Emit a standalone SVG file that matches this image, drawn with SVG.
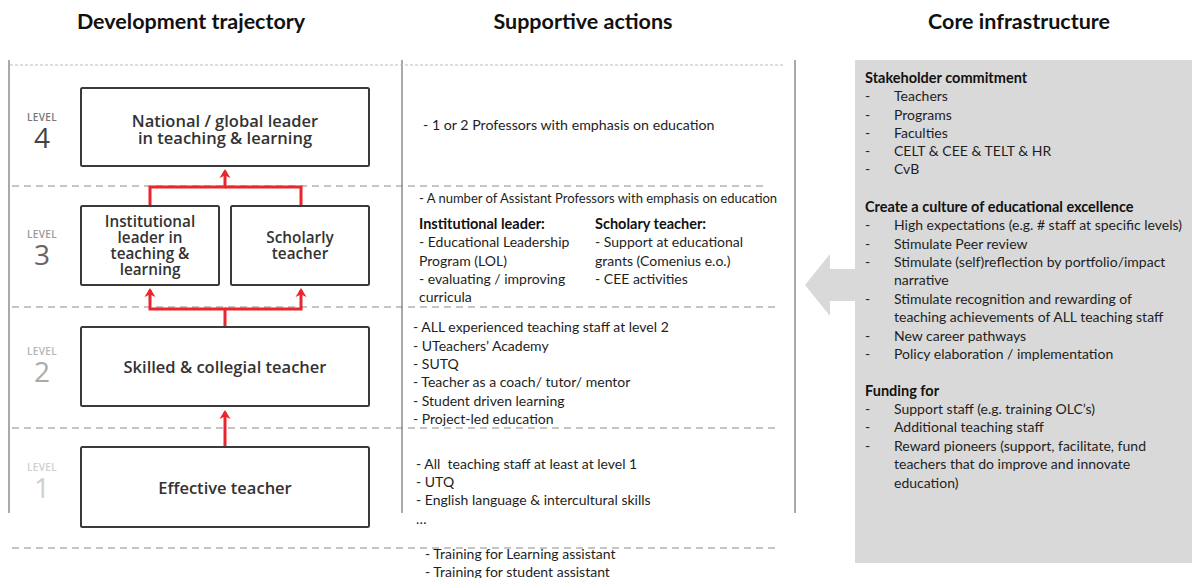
<svg xmlns="http://www.w3.org/2000/svg" width="1192" height="578" viewBox="0 0 1192 578">
<style>
.hdr{font-family:Lato,"Liberation Sans",sans-serif;font-weight:700;font-size:21.5px;fill:#111;text-anchor:middle}
.box{fill:#fff;stroke:#3a3a3a;stroke-width:2}
.bt{font-family:"Open Sans","DejaVu Sans",sans-serif;font-weight:600;font-size:16.5px;fill:#333;text-anchor:middle}
.bs{font-size:15.3px}
.lv{font-family:"Open Sans","DejaVu Sans",sans-serif;font-weight:600;font-size:10px;text-anchor:middle;letter-spacing:0.3px}
.ln{font-family:"Open Sans","DejaVu Sans",sans-serif;font-weight:400;font-size:28px;text-anchor:middle}
.t{font-family:Lato,"Liberation Sans",sans-serif;font-size:14px;fill:#1e1e1e}
.tb{font-family:Lato,"Liberation Sans",sans-serif;font-size:14.5px;font-weight:700;fill:#111}
.vl{stroke:#555;stroke-width:1}
.dl{stroke:#8a8a8a;stroke-width:1;stroke-dasharray:7 5;fill:none}
.dt{stroke:#bdbdbd;stroke-width:1;stroke-dasharray:3 2;fill:none}
.red{stroke:#e8262b;stroke-width:3;fill:none;stroke-linejoin:miter}
</style>
<defs>
<marker id="ah" viewBox="0 0 12 12" refX="8" refY="6" markerWidth="12" markerHeight="12" markerUnits="userSpaceOnUse" orient="auto">
<path d="M1,0.5 L10,6 L1,11.5 L3.5,6 Z" fill="#e8262b"/>
</marker>
</defs>

<!-- headers -->
<text class="hdr" x="191" y="29">Development trajectory</text>
<text class="hdr" x="583" y="29">Supportive actions</text>
<text class="hdr" x="1019" y="29">Core infrastructure</text>

<!-- gray panel and arrow -->
<rect x="855" y="60" width="337" height="503" fill="#d9d9d9"/>
<polygon points="805,285 830,254 830,269 856,269 856,301 830,301 830,316" fill="#d9d9d9"/>

<!-- frame lines -->
<g id="grid">
<line class="vl" x1="9" y1="60" x2="9" y2="513"/>
<line class="vl" x1="402" y1="60" x2="402" y2="513"/>
<line class="vl" x1="795" y1="60" x2="795" y2="513"/>
<line class="dt" x1="10" y1="65" x2="783" y2="65"/>
<line class="dl" x1="12" y1="186" x2="763" y2="186"/>
<line class="dl" x1="12" y1="307" x2="780" y2="307"/>
<line class="dl" x1="12" y1="428" x2="780" y2="428"/>
<line class="dl" x1="12" y1="548" x2="780" y2="548"/>
</g>

<!-- level labels -->
<g id="levels">
<text class="lv" x="42" y="121" fill="#777">LEVEL</text>
<text class="ln" x="42" y="148" fill="#444">4</text>
<text class="lv" x="42" y="238" fill="#999">LEVEL</text>
<text class="ln" x="42" y="265" fill="#666">3</text>
<text class="lv" x="42" y="355" fill="#b5b5b5">LEVEL</text>
<text class="ln" x="42" y="382" fill="#aaa">2</text>
<text class="lv" x="42" y="471" fill="#cfcfcf">LEVEL</text>
<text class="ln" x="42" y="498" fill="#cfcfcf">1</text>
</g>

<!-- connectors -->
<g id="connectors">
<path class="red" d="M225,447 V412" marker-end="url(#ah)"/>
<path class="red" d="M225,327 V309 H150 V290" marker-end="url(#ah)"/>
<path class="red" d="M225,309 H301 V290" marker-end="url(#ah)"/>
<path class="red" d="M150,206 V187 H225 V171" marker-end="url(#ah)"/>
<path class="red" d="M301,206 V187 H225"/>
</g>

<!-- nodes -->
<g id="node-level4">
<rect class="box" x="81" y="88" width="288" height="78" rx="1.5"/>
<text class="bt" x="225" y="127">National / global leader</text>
<text class="bt" x="225" y="144">in teaching &amp; learning</text>
</g>
<g id="node-institutional-leader">
<rect class="box" x="81" y="206" width="138" height="79" rx="1.5"/>
<text class="bt bs" x="150" y="227">Institutional</text>
<text class="bt bs" x="150" y="243">leader in</text>
<text class="bt bs" x="150" y="259">teaching &amp;</text>
<text class="bt bs" x="150" y="275">learning</text>
</g>
<g id="node-scholarly-teacher">
<rect class="box" x="231" y="206" width="138" height="79" rx="1.5"/>
<text class="bt bs" x="300" y="243">Scholarly</text>
<text class="bt bs" x="300" y="259">teacher</text>
</g>
<g id="node-level2">
<rect class="box" x="81" y="327" width="288" height="79" rx="1.5"/>
<text class="bt" x="225" y="373">Skilled &amp; collegial teacher</text>
</g>
<g id="node-level1">
<rect class="box" x="81" y="447" width="288" height="80" rx="1.5"/>
<text class="bt" x="225" y="494">Effective teacher</text>
</g>

<!-- supportive actions -->
<g id="supportive-actions">
<text class="t" x="423" y="130" style="font-size:14.2px">- 1 or 2 Professors with emphasis on education</text>
<text class="t" x="419" y="203" style="font-size:13px">- A number of Assistant Professors with emphasis on education</text>
<text class="tb" x="419" y="229">Institutional leader:</text>
<text class="t" x="419" y="247">- Educational Leadership</text>
<text class="t" x="419" y="266">Program (LOL)</text>
<text class="t" x="419" y="284">- evaluating / improving</text>
<text class="t" x="419" y="302">curricula</text>
<text class="tb" x="595" y="229">Scholary teacher:</text>
<text class="t" x="595" y="247">- Support at educational</text>
<text class="t" x="595" y="266">grants (Comenius e.o.)</text>
<text class="t" x="595" y="284">- CEE activities</text>
<text class="t" x="413" y="332">- ALL experienced teaching staff at level 2</text>
<text class="t" x="413" y="351">- UTeachers’ Academy</text>
<text class="t" x="413" y="369">- SUTQ</text>
<text class="t" x="413" y="387">- Teacher as a coach/ tutor/ mentor</text>
<text class="t" x="413" y="406">- Student driven learning</text>
<text class="t" x="413" y="424">- Project-led education</text>
<text class="t" x="416" y="469" xml:space="preserve">- All  teaching staff at least at level 1</text>
<text class="t" x="416" y="487">- UTQ</text>
<text class="t" x="416" y="505">- English language &amp; intercultural skills</text>
<text class="t" x="416" y="524">…</text>
<text class="t" x="425" y="559">- Training for Learning assistant</text>
<text class="t" x="425" y="577">- Training for student assistant</text>
</g>

<!-- core infrastructure -->
<g id="core-infrastructure">
<text class="tb" x="865" y="83">Stakeholder commitment</text>
<text class="t" x="865" y="101">-</text><text class="t" x="894" y="101">Teachers</text>
<text class="t" x="865" y="120">-</text><text class="t" x="894" y="120">Programs</text>
<text class="t" x="865" y="138">-</text><text class="t" x="894" y="138">Faculties</text>
<text class="t" x="865" y="156">-</text><text class="t" x="894" y="156">CELT &amp; CEE &amp; TELT &amp; HR</text>
<text class="t" x="865" y="174">-</text><text class="t" x="894" y="174">CvB</text>
<text class="tb" x="865" y="212">Create a culture of educational excellence</text>
<text class="t" x="865" y="230">-</text><text class="t" x="894" y="230">High expectations (e.g. # staff at specific levels)</text>
<text class="t" x="865" y="249">-</text><text class="t" x="894" y="249">Stimulate Peer review</text>
<text class="t" x="865" y="267">-</text><text class="t" x="894" y="267">Stimulate (self)reflection by portfolio/impact</text>
<text class="t" x="894" y="285">narrative</text>
<text class="t" x="865" y="304">-</text><text class="t" x="894" y="304">Stimulate recognition and rewarding of</text>
<text class="t" x="894" y="322">teaching achievements of ALL teaching staff</text>
<text class="t" x="865" y="341">-</text><text class="t" x="894" y="341">New career pathways</text>
<text class="t" x="865" y="359">-</text><text class="t" x="894" y="359">Policy elaboration / implementation</text>
<text class="tb" x="865" y="396">Funding for</text>
<text class="t" x="865" y="414">-</text><text class="t" x="894" y="414">Support staff (e.g. training OLC’s)</text>
<text class="t" x="865" y="432">-</text><text class="t" x="894" y="432">Additional teaching staff</text>
<text class="t" x="865" y="451">-</text><text class="t" x="894" y="451">Reward pioneers (support, facilitate, fund</text>
<text class="t" x="894" y="469">teachers that do improve and innovate</text>
<text class="t" x="894" y="488">education)</text>
</g>
</svg>
